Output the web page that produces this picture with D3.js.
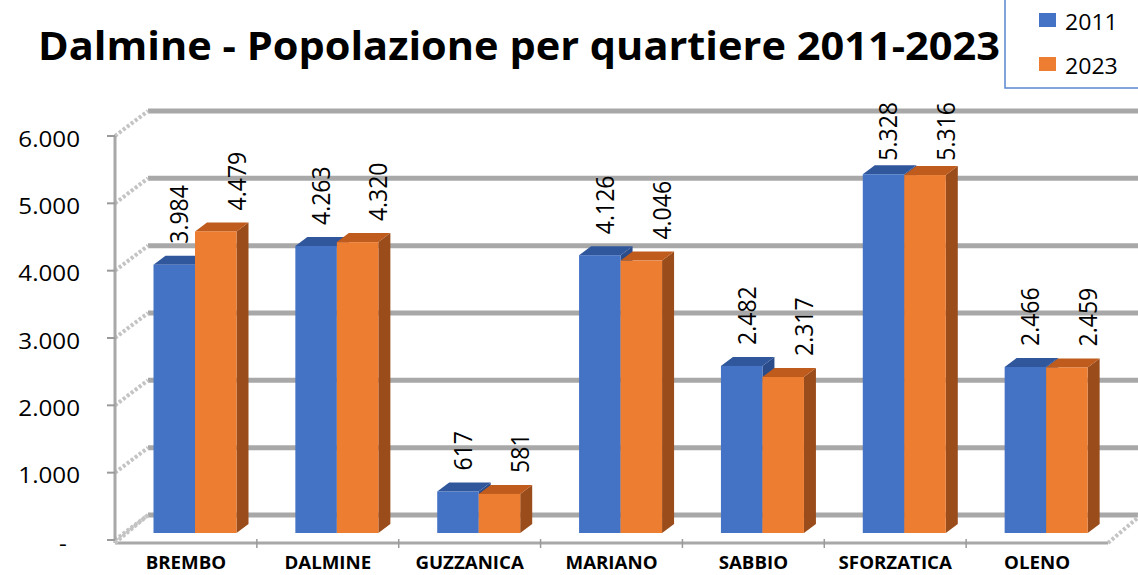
<!DOCTYPE html>
<html>
<head>
<meta charset="utf-8">
<script src="https://cdn.jsdelivr.net/npm/d3@7"></script>
<style>
  body { margin:0; background:#fff; }
  text { font-family: "Open Sans", sans-serif; fill:#000; }
</style>
</head>
<body>
<svg id="chart"></svg>
<script>
// data
var categories = ["BREMBO","DALMINE","GUZZANICA","MARIANO","SABBIO","SFORZATICA","OLENO"];
var seriesNames = ["2011","2023"];
var pop2011 = [3984,4263,617,4126,2482,5328,2466];
var pop2023 = [4479,4320,581,4046,2317,5316,2459];
var yTicks = [0,1000,2000,3000,4000,5000,6000];
var chartTitle = "Dalmine - Popolazione per quartiere 2011-2023";

drawBars3d("#chart");

function drawBars3d(id){
	var svgWidth = 1138, svgHeight = 575;
	var sx = 1.1;              // the original picture is stretched a bit horizontally
	var colors = ["#4472C4","#ED7D31"];
	var topColors = ["#30569b","#bf5b1c"];
	var sideColors = ["#2b4c8a","#9a4c1b"];
	var gridColor = "#a8a8a8";

	var svg = d3.select(id)
		.attr("width",svgWidth)
		.attr("height",svgHeight);

	// front plane x, bar plane is pushed back a bit
	var x = d3.scaleBand().domain(categories).range([115,1108]);
	var xs = d3.scaleBand().domain(seriesNames).range([29.5,112.5]);
	var y = d3.scaleLinear().domain([0,6000]).range([533,129]);
	var barDx = 9, frontDy = 7;       // bar plane -> front plane
	var backDx = 24, backDy = -18;    // bar plane -> back wall
	var depthX = 12, depthY = 9;      // bar thickness

	var fmt = d3.formatLocale({decimal:",",thousands:".",grouping:[3],currency:["","€"]}).format(",");

	var xL = x.range()[0], xR = x.range()[1];

	// back wall gridlines
	svg.selectAll("line.grid")
		.data(yTicks)
		.enter()
		.append("line")
		.attr("class","grid")
		.attr("x1",xL+barDx+backDx)
		.attr("x2",xR+barDx+backDx)
		.attr("y1",function(d){ return y(d)+backDy; })
		.attr("y2",function(d){ return y(d)+backDy; })
		.attr("stroke",gridColor)
		.attr("stroke-width",5);

	// side wall slants
	svg.selectAll("line.side")
		.data(yTicks)
		.enter()
		.append("line")
		.attr("class","side")
		.attr("x1",xL)
		.attr("x2",xL+barDx+backDx)
		.attr("y1",function(d){ return y(d)+frontDy; })
		.attr("y2",function(d){ return y(d)+backDy; })
		.attr("stroke","#c4c4c4")
		.attr("stroke-width",4)
		.attr("stroke-dasharray","3 2");

	// left axis line + ticks
	svg.append("line")
		.attr("x1",xL).attr("x2",xL)
		.attr("y1",y(6000)+frontDy).attr("y2",y(0)+frontDy+3)
		.attr("stroke",gridColor).attr("stroke-width",3);
	svg.selectAll("line.ytick")
		.data(yTicks)
		.enter()
		.append("line")
		.attr("class","ytick")
		.attr("x1",xL-8).attr("x2",xL)
		.attr("y1",function(d){ return y(d)+frontDy; })
		.attr("y2",function(d){ return y(d)+frontDy; })
		.attr("stroke","#9a9a9a").attr("stroke-width",2);

	svg.selectAll("text.ylab")
		.data(yTicks)
		.enter()
		.append("text")
		.attr("class","ylab")
		.attr("font-size","22px")
		.attr("text-anchor","end")
		.attr("dy","0.35em")
		.attr("dx",function(d){ return d===0 ? -12 : 0; })
		.attr("transform",function(d){ return "translate(80,"+(y(d)+frontDy+3)+") scale("+sx+",1)"; })
		.text(function(d){ return d===0 ? "-" : fmt(d); });

	// floor
	var floorY = y(0)+frontDy+3;
	svg.append("line")
		.attr("x1",xL).attr("x2",xR)
		.attr("y1",floorY).attr("y2",floorY)
		.attr("stroke",gridColor).attr("stroke-width",3);
	svg.append("line")
		.attr("x1",xL).attr("x2",xL+barDx+backDx)
		.attr("y1",floorY).attr("y2",y(0)+backDy)
		.attr("stroke","#c4c4c4").attr("stroke-width",4).attr("stroke-dasharray","3 2");
	svg.append("line")
		.attr("x1",xR).attr("x2",xR+barDx+backDx)
		.attr("y1",floorY).attr("y2",y(0)+backDy)
		.attr("stroke","#c4c4c4").attr("stroke-width",4).attr("stroke-dasharray","3 2");
	svg.selectAll("line.xtick")
		.data(categories.slice(1))
		.enter()
		.append("line")
		.attr("class","xtick")
		.attr("x1",function(d){ return x(d); })
		.attr("x2",function(d){ return x(d); })
		.attr("y1",floorY-4).attr("y2",floorY+5)
		.attr("stroke","#9a9a9a").attr("stroke-width",1.5);

	// bars
	var bars = [];
	categories.forEach(function(c,i){
		bars.push({c:c,s:seriesNames[0],k:0,v:pop2011[i]});
		bars.push({c:c,s:seriesNames[1],k:1,v:pop2023[i]});
	});
	var bw = xs.bandwidth();

	var g = svg.selectAll("g.bar")
		.data(bars)
		.enter()
		.append("g")
		.attr("class","bar");

	g.append("polygon")
		.attr("fill",function(d){ return sideColors[d.k]; })
		.attr("points",function(d){
			var x1 = x(d.c)+barDx+xs(d.s)+bw, y0 = y(0), y1 = y(d.v);
			return [[x1,y0],[x1+depthX,y0-depthY],[x1+depthX,y1-depthY],[x1,y1]].join(" ");
		});
	g.append("polygon")
		.attr("fill",function(d){ return topColors[d.k]; })
		.attr("points",function(d){
			var x0 = x(d.c)+barDx+xs(d.s), y1 = y(d.v);
			return [[x0,y1],[x0+depthX,y1-depthY],[x0+bw+depthX,y1-depthY],[x0+bw,y1]].join(" ");
		});
	g.append("rect")
		.attr("x",function(d){ return x(d.c)+barDx+xs(d.s); })
		.attr("y",function(d){ return y(d.v); })
		.attr("width",bw)
		.attr("height",function(d){ return y(0)-y(d.v); })
		.attr("fill",function(d){ return colors[d.k]; });

	// value labels, rotated
	var labelShift = [5,21];
	var plotTop = 102;
	svg.selectAll("text.val")
		.data(bars)
		.enter()
		.append("text")
		.attr("class","val")
		.attr("font-size","23px")
		.attr("dy","0.35em")
		.text(function(d){ return fmt(d.v); })
		.attr("transform",function(d){
			var len = this.getComputedTextLength();
			var cx = x(d.c)+barDx+xs(d.s)+bw/2+labelShift[d.k];
			var bottom = Math.max(y(d.v)-21, plotTop+len);
			return "translate("+cx+","+bottom+") scale("+sx+",1) rotate(-90)";
		});

	// category labels
	svg.selectAll("text.xlab")
		.data(categories)
		.enter()
		.append("text")
		.attr("class","xlab")
		.attr("font-size","17px")
		.attr("font-weight","bold")
		.attr("text-anchor","middle")
		.attr("transform",function(d){ return "translate("+(x(d)+x.bandwidth()/2)+",569) scale("+sx+",1)"; })
		.text(function(d){ return d; });

	// title
	svg.append("text")
		.attr("x",38)
		.attr("y",60)
		.attr("font-size","39px")
		.attr("font-weight","bold")
		.attr("textLength",962)
		.attr("lengthAdjust","spacingAndGlyphs")
		.text(chartTitle);

	// legend
	svg.append("rect")
		.attr("x",1005).attr("y",-2)
		.attr("width",140).attr("height",90)
		.attr("fill","#fff")
		.attr("stroke","#5b86d0").attr("stroke-width",1.5);
	var lg = svg.selectAll("g.leg")
		.data(seriesNames)
		.enter()
		.append("g")
		.attr("class","leg")
		.attr("transform",function(d,i){ return "translate(1039,"+(13+i*44)+")"; });
	lg.append("rect")
		.attr("width",17).attr("height",14)
		.attr("fill",function(d,i){ return colors[i]; });
	lg.append("text")
		.attr("font-size","21px")
		.attr("transform","translate(26,17) scale("+sx+",1)")
		.text(function(d){ return d; });
}
</script>
</body>
</html>
